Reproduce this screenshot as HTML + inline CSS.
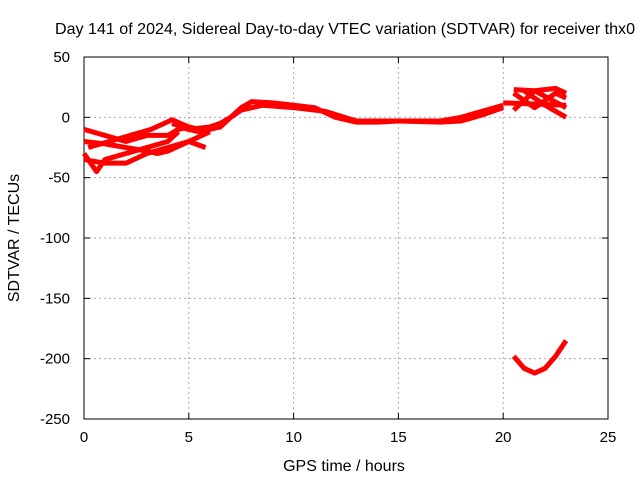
<!DOCTYPE html>
<html><head><meta charset="utf-8"><style>
body{margin:0;background:#fff;}
svg{display:block;font-family:"Liberation Sans",sans-serif;font-size:15px;}
</style></head><body>
<svg id="chart" width="640" height="480" viewBox="0 0 640 480">
<text x="345" y="34" text-anchor="middle" font-size="16" textLength="580" lengthAdjust="spacingAndGlyphs">Day 141 of 2024, Sidereal Day-to-day VTEC variation (SDTVAR) for receiver thx0</text>
<g id="grid"></g>
<g id="axes"></g>
<g id="series"></g>
<text x="344" y="471" text-anchor="middle" font-size="16">GPS time / hours</text>
<text transform="translate(19,238) rotate(-90)" text-anchor="middle" font-size="16">SDTVAR / TECUs</text>
</svg>
<script>
const xTicks=[0,5,10,15,20,25];
const yTicks=[50,0,-50,-100,-150,-200,-250];
const s1x=[4.2,5,6,6.5,7,7.5,8,9,10,11,12,13,14,15,16,17,18,19,20];
const s1y=[-5,-10,-8,-5,0,8,13,12,10,8,0,-4,-4,-3,-3,-3,0,5,10];
const s2x=[4.5,5.5,6.5,7,7.5,8.5,10,11.5,13,15,17,18,19,20];
const s2y=[-8,-12,-8,0,6,10,8,5,-3,-3,-4,-3,2,8];
const s3x=[0,1,2,3,4,4.5,5];
const s3y=[-10,-15,-20,-15,-15,-10,-8];
const s4x=[0,1,2,3,3.5,4,5,6];
const s4y=[-20,-22,-25,-28,-30,-28,-20,-12];
const s5x=[0,0.6,1,2,3,4,4.5];
const s5y=[-30,-45,-35,-30,-25,-20,-12];
const s6x=[0,1,2,3,4,5,5.8];
const s6y=[-35,-38,-38,-30,-25,-20,-25];
const s7x=[0.2,1.2,2.2,3.2,4.2,5,6];
const s7y=[-25,-20,-15,-10,-2,-8,-12];
const s8x=[20.5,21.5,22.5,23];const s8y=[23,22,24,20];
const s9x=[20.5,21.5,22.5,23];const s9y=[20,8,20,16];
const s10x=[20.5,21.5,23];const s10y=[6,22,8];
const s11x=[21,22,23];const s11y=[22,10,0];
const s12x=[20,23];const s12y=[12,10];
const s13x=[20.5,21,21.5,22,22.5,23];
const s13y=[-198,-208,-212,-208,-198,-185];
const seriesX=[s1x,s2x,s3x,s4x,s5x,s6x,s7x,s8x,s9x,s10x,s11x,s12x,s13x];
const seriesY=[s1y,s2y,s3y,s4y,s5y,s6y,s7y,s8y,s9y,s10y,s11y,s12y,s13y];
const L=84,R=608,T=57,B=419;
const X=v=>L+(v-0)/25*(R-L);
const Y=v=>T+(50-v)/300*(B-T);
const NS="http://www.w3.org/2000/svg";
function mk(tag,attrs,parent){const e=document.createElementNS(NS,tag);for(const k in attrs)e.setAttribute(k,attrs[k]);parent.appendChild(e);return e;}
const grid=document.getElementById('grid'),axes=document.getElementById('axes'),ser=document.getElementById('series');
xTicks.forEach(t=>{
 if(t>0&&t<25){const g=mk('line',{x1:X(t),x2:X(t),y1:T,y2:B,stroke:'#aaa','stroke-dasharray':'2,3'},grid);
 
 }
 mk('line',{x1:X(t),x2:X(t),y1:B,y2:B-6,stroke:'#000'},axes);
 mk('line',{x1:X(t),x2:X(t),y1:T,y2:T+6,stroke:'#000'},axes);
 const tx=mk('text',{x:X(t),y:B+23,'text-anchor':'middle'},axes);tx.textContent=t;
 
 
});
yTicks.forEach(t=>{
 if(t<50&&t>-250){const g=mk('line',{x1:L,x2:R,y1:Y(t),y2:Y(t),stroke:'#aaa','stroke-dasharray':'2,3'},grid);
 
 }
 mk('line',{x1:L,x2:L+6,y1:Y(t),y2:Y(t),stroke:'#000'},axes);
 mk('line',{x1:R,x2:R-6,y1:Y(t),y2:Y(t),stroke:'#000'},axes);
 const tx=mk('text',{x:L-14,y:Y(t)+5,'text-anchor':'end'},axes);tx.textContent=t;
 
 
});
const fr=mk('rect',{x:L,y:T,width:R-L,height:B-T,fill:'none',stroke:'#000'},axes);


seriesX.forEach((xs,i)=>{
 const ys=seriesY[i];
 const p=mk('polyline',{points:xs.map((x,j)=>X(x)+','+Y(ys[j])).join(' '),fill:'none',stroke:'#f00','stroke-width':5,'stroke-linejoin':'round'},ser);
 
 
});
</script>
</body></html>
